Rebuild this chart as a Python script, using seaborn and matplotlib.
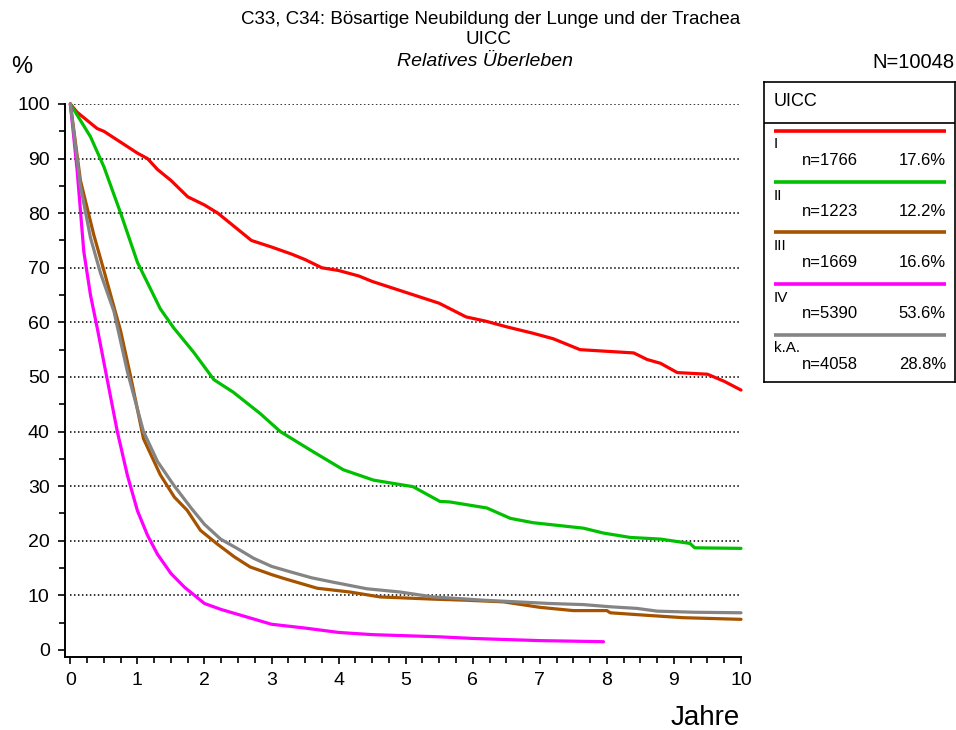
import numpy as np
import pandas as pd
import matplotlib
matplotlib.use("Agg")
import matplotlib.pyplot as plt
import seaborn as sns

### Data
groups = ["I", "II", "III", "IV", "k.A."]
colors = ["#ff0000", "#00c000", "#a65300", "#ff00ff", "#848484"]
counts = ["n=1766", "n=1223", "n=1669", "n=5390", "n=4058"]
shares = ["17.6%", "12.2%", "16.6%", "53.6%", "28.8%"]

t_I = [0, 0.1, 0.25, 0.4, 0.5, 0.75, 1.0, 1.15, 1.3, 1.5, 1.75, 2.0, 2.2, 2.45, 2.7, 3.0,
       3.3, 3.5, 3.75, 4.0, 4.3, 4.5, 4.75, 5.0, 5.25, 5.5, 5.9, 6.2, 6.5, 6.9, 7.2, 7.6,
       8.0, 8.4, 8.6, 8.8, 9.05, 9.5, 9.75, 10.0]
v_I = [100, 98.5, 97, 95.5, 95, 93, 91, 90, 88, 86, 83, 81.5, 80, 77.5, 75, 73.8,
       72.5, 71.5, 70, 69.5, 68.5, 67.5, 66.5, 65.5, 64.5, 63.5, 61, 60.2, 59.2, 58, 57, 55,
       54.7, 54.4, 53.2, 52.5, 50.8, 50.5, 49.2, 47.6]

t_II = [0, 0.15, 0.3, 0.5, 0.75, 1.0, 1.2, 1.34, 1.54, 1.84, 2.14, 2.43, 2.83, 3.13, 3.58,
        4.07, 4.52, 5.11, 5.51, 5.66, 6.21, 6.56, 6.9, 7.65, 7.95, 8.35, 8.8, 9.24, 9.31, 10.0]
v_II = [100, 97, 94, 88.5, 80, 71, 66, 62.5, 59, 54.5, 49.5, 47.2, 43.3, 40, 36.6,
        33, 31.1, 29.9, 27.2, 27.1, 26, 24.1, 23.3, 22.3, 21.4, 20.6, 20.3, 19.5, 18.7, 18.6]

t_III = [0, 0.15, 0.35, 0.5, 0.75, 0.9, 1.09, 1.34, 1.55, 1.74, 1.94, 2.19, 2.45, 2.68, 3.0,
         3.18, 3.68, 4.17, 4.62, 5.41, 5.9, 6.46, 7.0, 7.5, 8.0, 8.05, 8.64, 9.14, 10.0]
v_III = [100, 86, 76, 69.5, 58.4, 50, 38.7, 32.1, 28, 25.6, 21.9, 19.4, 17, 15.2, 13.8,
         13.1, 11.3, 10.6, 9.7, 9.3, 9.1, 8.8, 7.8, 7.2, 7.2, 6.8, 6.3, 5.9, 5.6]

t_IV = [0, 0.1, 0.2, 0.3, 0.4, 0.55, 0.7, 0.85, 1.0, 1.15, 1.3, 1.5, 1.7, 1.85, 2.0, 2.25,
        2.5, 2.75, 3.0, 3.5, 4.0, 4.5, 5.0, 5.5, 6.0, 6.5, 7.0, 7.5, 7.95]
v_IV = [100, 88, 73, 65, 59, 49.5, 40, 32, 25.5, 21, 17.5, 14, 11.5, 10, 8.5, 7.4,
        6.5, 5.6, 4.7, 4.0, 3.2, 2.8, 2.6, 2.4, 2.1, 1.9, 1.7, 1.6, 1.5]

t_KA = [0, 0.15, 0.3, 0.45, 0.65, 0.85, 1.09, 1.3, 1.54, 1.8, 2.0, 2.24, 2.5, 2.73, 3.0,
        3.28, 3.6, 3.92, 4.42, 4.92, 5.41, 5.8, 6.16, 6.66, 7.15, 7.65, 8.05, 8.45, 8.75,
        9.3, 10.0]
v_KA = [100, 85, 75.5, 69, 62, 51, 40, 34.5, 30.2, 26, 23, 20.3, 18.5, 16.8, 15.3,
        14.3, 13.2, 12.4, 11.2, 10.6, 9.7, 9.4, 9.1, 8.8, 8.5, 8.3, 7.9, 7.6, 7.1,
        6.9, 6.8]

series = [(t_I, v_I), (t_II, v_II), (t_III, v_III), (t_IV, v_IV), (t_KA, v_KA)]
frames = []
for g, (t, v) in zip(groups, series):
    frames.append(pd.DataFrame({"Jahre": t, "Ueberleben": v, "UICC": g}))
df = pd.concat(frames, ignore_index=True)

### Plot
sns.set_theme(style="ticks")
plt.rcParams["font.family"] = ["Liberation Sans", "DejaVu Sans"]
plt.rcParams["text.color"] = "black"

fig = plt.figure(figsize=(9.56, 7.3), dpi=100)
ax = fig.add_axes([65 / 956, 73 / 730, 676 / 956, 553 / 730])

ax.hlines(np.arange(10, 101, 10), 0, 10, colors="black", linewidth=1.1,
          linestyles=(0, (1, 1.6)), zorder=1)

sns.lineplot(data=df, x="Jahre", y="Ueberleben", hue="UICC", hue_order=groups,
             palette=colors, estimator=None, sort=False, linewidth=2.3,
             legend=False, ax=ax, zorder=3)
for line in ax.lines:
    line.set_clip_on(False)

ax.set_xlim(-0.08, 10)
ax.set_ylim(-1.3, 100)
ax.set_xticks(np.arange(0, 11, 1))
ax.set_xticks(np.arange(0, 10.01, 0.25), minor=True)
ax.set_yticks(np.arange(0, 101, 10))
ax.set_yticks(np.arange(0, 101, 5), minor=True)
ax.tick_params(axis="both", which="major", labelsize=14, length=5, width=1.2,
               color="black", labelcolor="black", pad=6)
ax.tick_params(axis="both", which="minor", length=4, width=1.2, color="black")
ax.set_xlabel("")
ax.set_ylabel("")
for side in ["top", "right"]:
    ax.spines[side].set_visible(False)
for side in ["left", "bottom"]:
    ax.spines[side].set_linewidth(1.4)
    ax.spines[side].set_color("black")

### Titles and axis texts
fig.text(491 / 956, 1 - 20 / 730, "C33, C34: Bösartige Neubildung der Lunge und der Trachea",
         ha="center", va="center", fontsize=13.5)
fig.text(488 / 956, 1 - 40 / 730, "UICC", ha="center", va="center", fontsize=13.5)
fig.text(485 / 956, 1 - 62 / 730, "Relatives Überleben", ha="center", va="center",
         fontsize=14, style="italic")
fig.text(955 / 956, 1 - 63 / 730, "N=10048", ha="right", va="center", fontsize=14.5)
fig.text(22 / 956, 1 - 67 / 730, "%", ha="center", va="center", fontsize=17)
fig.text(705 / 956, 1 - 718 / 730, "Jahre", ha="center", va="center", fontsize=20)

### Legend box
lax = fig.add_axes([764 / 956, 1 - 382 / 730, 191 / 956, 300 / 730])
lax.set_xlim(0, 191)
lax.set_ylim(300, 0)
lax.set_xticks([])
lax.set_yticks([])
for s in lax.spines.values():
    s.set_linewidth(1.2)
    s.set_color("black")
lax.axhline(41, color="black", linewidth=1.2)
lax.text(10, 20, "UICC", ha="left", va="center", fontsize=13)
for i, g in enumerate(groups):
    y0 = 48.5 + i * 51
    lax.plot([10, 182], [y0, y0], color=colors[i], linewidth=2.6, solid_capstyle="butt")
    lax.text(10, y0 + 14, g, ha="left", va="center", fontsize=11)
    lax.text(38, y0 + 30, counts[i], ha="left", va="center", fontsize=12)
    lax.text(182, y0 + 30, shares[i], ha="right", va="center", fontsize=12)

fig.savefig("out.png", dpi=100)
